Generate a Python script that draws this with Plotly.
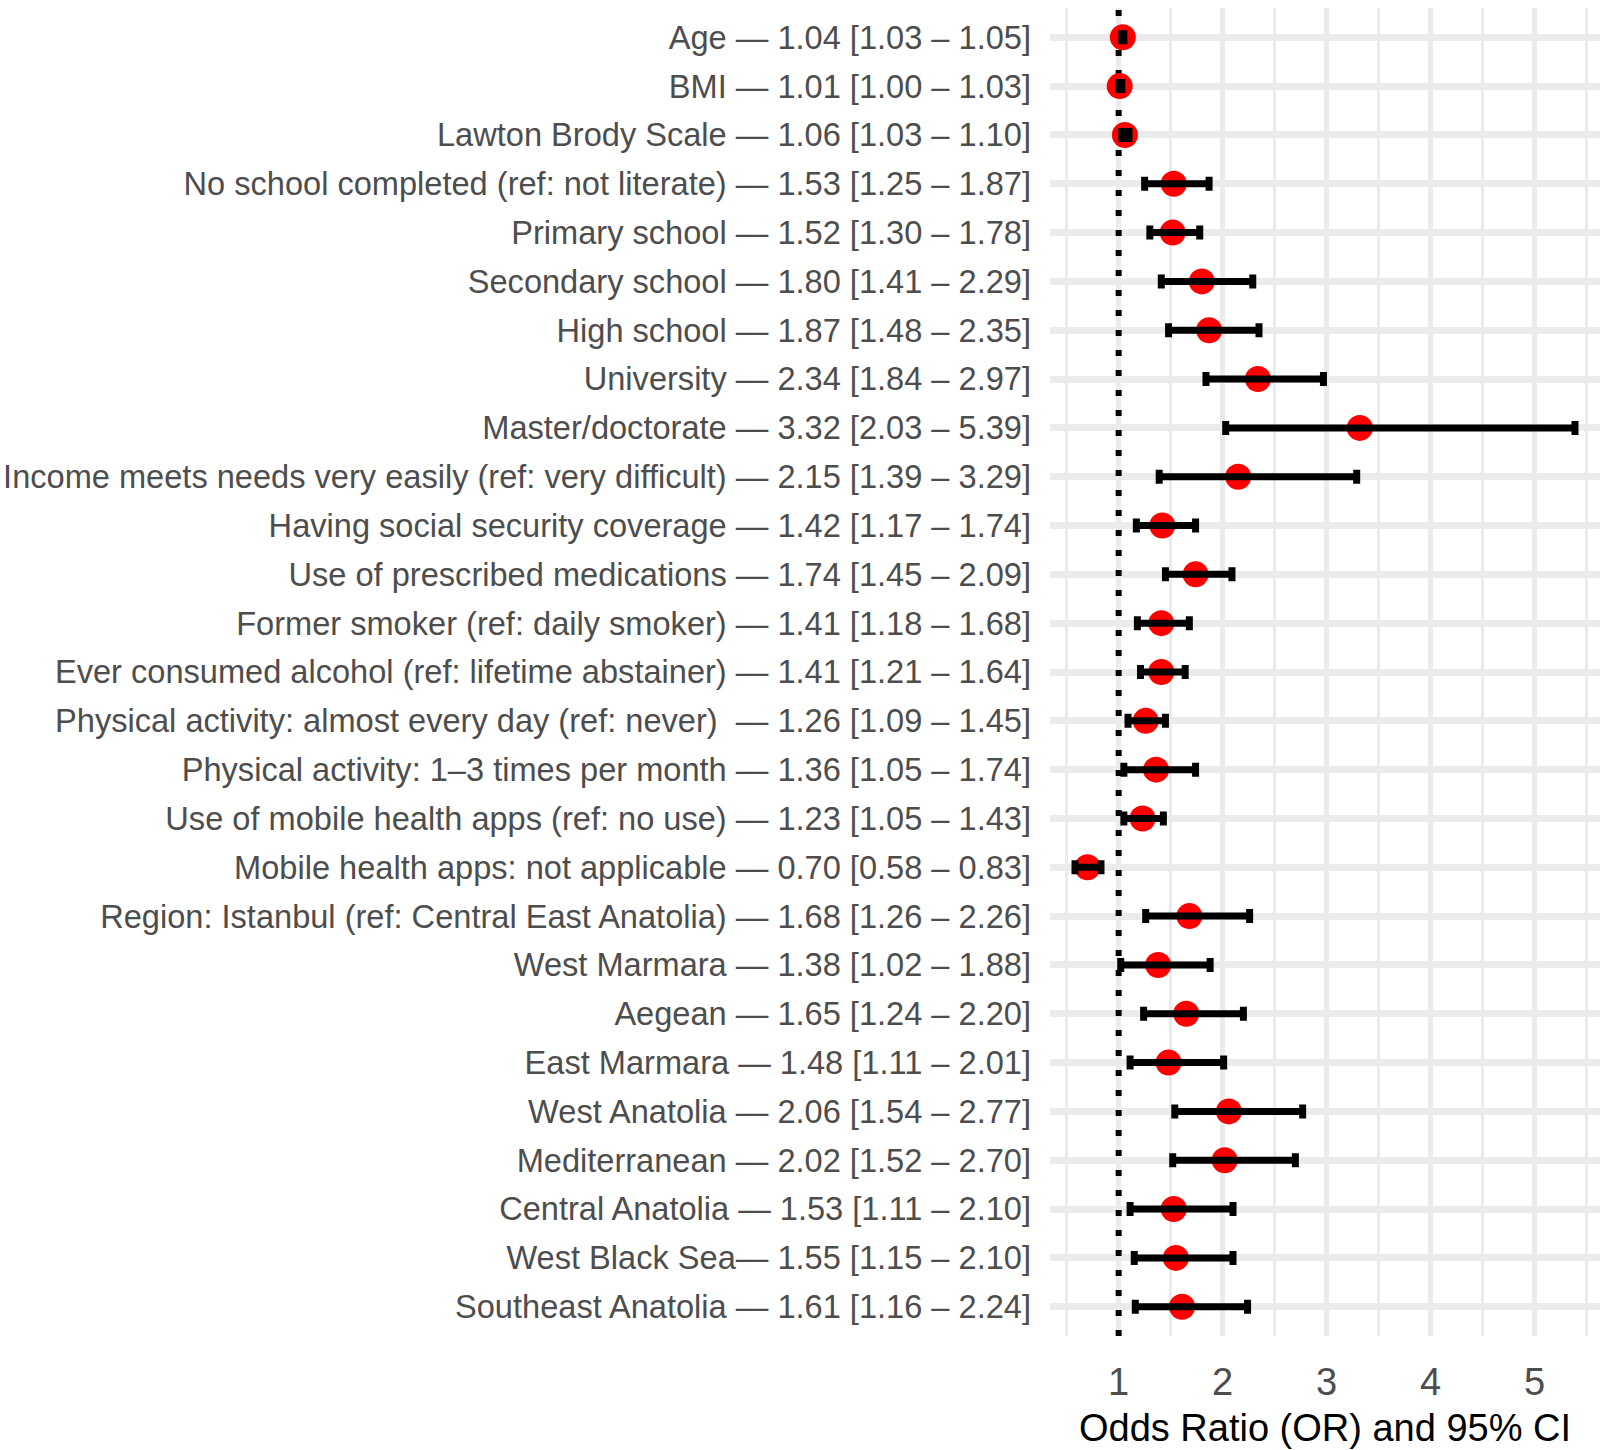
import plotly.graph_objects as go

# ---- data ----
labels = [
    "Age — 1.04 [1.03 – 1.05]",
    "BMI — 1.01 [1.00 – 1.03]",
    "Lawton Brody Scale — 1.06 [1.03 – 1.10]",
    "No school completed (ref: not literate) — 1.53 [1.25 – 1.87]",
    "Primary school — 1.52 [1.30 – 1.78]",
    "Secondary school — 1.80 [1.41 – 2.29]",
    "High school — 1.87 [1.48 – 2.35]",
    "University — 2.34 [1.84 – 2.97]",
    "Master/doctorate — 3.32 [2.03 – 5.39]",
    "Income meets needs very easily (ref: very difficult) — 2.15 [1.39 – 3.29]",
    "Having social security coverage — 1.42 [1.17 – 1.74]",
    "Use of prescribed medications — 1.74 [1.45 – 2.09]",
    "Former smoker (ref: daily smoker) — 1.41 [1.18 – 1.68]",
    "Ever consumed alcohol (ref: lifetime abstainer) — 1.41 [1.21 – 1.64]",
    "Physical activity: almost every day (ref: never)\u00a0 — 1.26 [1.09 – 1.45]",
    "Physical activity: 1–3 times per month — 1.36 [1.05 – 1.74]",
    "Use of mobile health apps (ref: no use) — 1.23 [1.05 – 1.43]",
    "Mobile health apps: not applicable — 0.70 [0.58 – 0.83]",
    "Region: Istanbul (ref: Central East Anatolia) — 1.68 [1.26 – 2.26]",
    "West Marmara — 1.38 [1.02 – 1.88]",
    "Aegean — 1.65 [1.24 – 2.20]",
    "East Marmara — 1.48 [1.11 – 2.01]",
    "West Anatolia — 2.06 [1.54 – 2.77]",
    "Mediterranean — 2.02 [1.52 – 2.70]",
    "Central Anatolia — 1.53 [1.11 – 2.10]",
    "West Black Sea— 1.55 [1.15 – 2.10]",
    "Southeast Anatolia — 1.61 [1.16 – 2.24]",
]
odds_ratio = [1.04, 1.01, 1.06, 1.53, 1.52, 1.80, 1.87, 2.34, 3.32, 2.15, 1.42, 1.74,
              1.41, 1.41, 1.26, 1.36, 1.23, 0.70, 1.68, 1.38, 1.65, 1.48, 2.06, 2.02,
              1.53, 1.55, 1.61]
ci_low = [1.03, 1.00, 1.03, 1.25, 1.30, 1.41, 1.48, 1.84, 2.03, 1.39, 1.17, 1.45,
          1.18, 1.21, 1.09, 1.05, 1.05, 0.58, 1.26, 1.02, 1.24, 1.11, 1.54, 1.52,
          1.11, 1.15, 1.16]
ci_high = [1.05, 1.03, 1.10, 1.87, 1.78, 2.29, 2.35, 2.97, 5.39, 3.29, 1.74, 2.09,
           1.68, 1.64, 1.45, 1.74, 1.43, 0.83, 2.26, 1.88, 2.20, 2.01, 2.77, 2.70,
           2.10, 2.10, 2.24]
x_ticks = [1, 2, 3, 4, 5]
x_minor = [0.5, 1.5, 2.5, 3.5, 4.5, 5.5]
ref_value = 1

n = len(labels)
rows = list(range(n))
err_plus = [h - o for h, o in zip(ci_high, odds_ratio)]
err_minus = [o - l for o, l in zip(odds_ratio, ci_low)]

# ggplot-like expanded ranges
lo_all = min(ci_low + [ref_value])
hi_all = max(ci_high + [ref_value])
pad = 0.05 * (hi_all - lo_all)
x_range = [lo_all - pad, hi_all + pad]
y_range = [n - 1 + 0.6, -0.6]

FONT = "Liberation Sans, Arial, sans-serif"
GRID = "#EBEBEB"

fig = go.Figure()
# reference line (dotted) at OR = 1
fig.add_trace(go.Scatter(
    x=[ref_value, ref_value], y=[y_range[0], y_range[1]], mode="lines",
    line=dict(color="black", width=6, dash="6px,14px"),
    hoverinfo="skip",
))
# points
fig.add_trace(go.Scatter(
    x=odds_ratio, y=rows, mode="markers",
    marker=dict(color="#FF0000", size=26, line=dict(width=0)),
    hoverinfo="skip",
))
# error bars on top
fig.add_trace(go.Scatter(
    x=odds_ratio, y=rows, mode="markers",
    marker=dict(color="rgba(0,0,0,0)", size=1),
    error_x=dict(type="data", symmetric=False, array=err_plus, arrayminus=err_minus,
                 color="black", thickness=7, width=7),
    hoverinfo="skip",
))

fig.update_layout(
    width=1604, height=1450,
    margin=dict(l=1050, r=4, t=8, b=114),
    plot_bgcolor="white", paper_bgcolor="white",
    showlegend=False,
    font=dict(family=FONT),
)
fig.update_xaxes(
    range=x_range, tickmode="array", tickvals=x_ticks,
    ticktext=[str(v) for v in x_ticks],
    showgrid=True, gridcolor=GRID, gridwidth=5,
    minor=dict(tickmode="array", tickvals=x_minor, showgrid=True, gridcolor=GRID, gridwidth=3),
    zeroline=False, showline=False, ticks="",
    tickfont=dict(size=38, color="#4D4D4D", family=FONT),
    ticklabelstandoff=20,
    title=dict(text="Odds Ratio (OR) and 95% CI", font=dict(size=38, color="black", family=FONT),
               standoff=12),
)
fig.update_yaxes(
    range=y_range, tickmode="array", tickvals=rows, ticktext=labels,
    showgrid=True, gridcolor=GRID, gridwidth=7,
    zeroline=False, showline=False, ticks="",
    tickfont=dict(size=32.6, color="#4D4D4D", family=FONT),
    ticklabelstandoff=18,
)

fig.write_html("out.html")
